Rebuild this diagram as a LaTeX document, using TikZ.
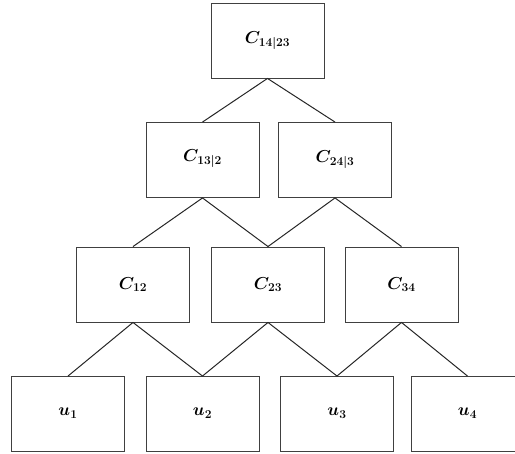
\documentclass[tikz,border=0pt]{standalone}
\begin{document}
\begin{tikzpicture}[x=1pt,y=-1pt,
  cbox/.style={draw=black!75, line width=0.9pt, fill=white, minimum width=113pt, minimum height=75pt, inner sep=0pt, font=\fontsize{18.5}{21}\selectfont\boldmath},
  edge/.style={draw=black!85, line width=1pt}]
\useasboundingbox (0,0) rectangle (515,454);
\node[cbox] (c1423) at (267.5,40.5) {$C_{14|23}$};
\node[cbox] (c132) at (202.5,160) {\raisebox{8pt}{$C_{13|2}$}};
\node[cbox] (c243) at (335,160) {$C_{24|3}$};
\node[cbox] (c12) at (133,284.5) {\raisebox{-3pt}{$C_{12}$}};
\node[cbox] (c23) at (268,284.5) {\raisebox{-3pt}{$C_{23}$}};
\node[cbox] (c34) at (401.5,284.5) {\raisebox{-3pt}{$C_{34}$}};
\node[cbox] (u1) at (68,414) {\raisebox{4pt}{$u_1$}};
\node[cbox] (u2) at (202.5,414) {\raisebox{4pt}{$u_2$}};
\node[cbox] (u3) at (337,414) {\raisebox{4pt}{$u_3$}};
\node[cbox] (u4) at (467.5,414) {\raisebox{4pt}{$u_4$}};
\draw[edge] (c132.north) -- (c1423.south) -- (c243.north);
\draw[edge] (c12.north) -- (c132.south) -- (c23.north);
\draw[edge] (c23.north) -- (c243.south) -- (c34.north);
\draw[edge] (u1.north) -- (c12.south) -- (u2.north);
\draw[edge] (u2.north) -- (c23.south) -- (u3.north);
\draw[edge] (u3.north) -- (c34.south) -- (u4.north);
\end{tikzpicture}
\end{document}
